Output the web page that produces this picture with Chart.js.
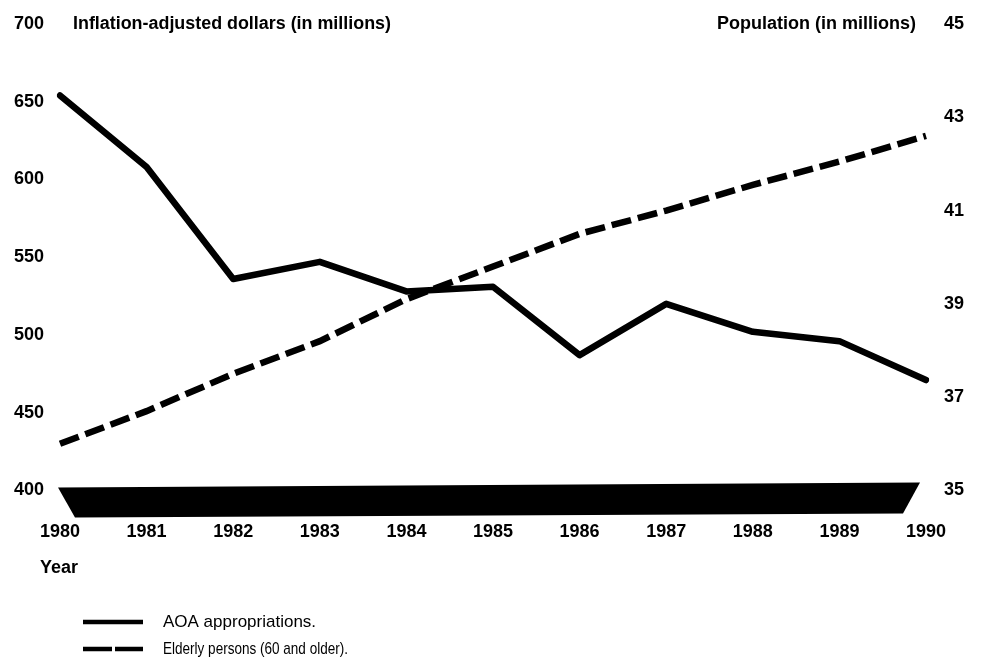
<!DOCTYPE html>
<html>
<head>
<meta charset="utf-8">
<script src="https://cdn.jsdelivr.net/npm/chart.js@4.4.0/dist/chart.umd.min.js"></script>
<style>
  html, body { margin: 0; padding: 0; background: #fff; }
  #wrap { width: 982px; height: 662px; }
</style>
</head>
<body>
<div id="wrap"><canvas id="aoaChart" width="982" height="662"></canvas></div>
<script>
// Years on the x axis
const years = ["1980", "1981", "1982", "1983", "1984", "1985", "1986", "1987", "1988", "1989", "1990"];

// AOA appropriations, inflation-adjusted dollars (in millions) - left axis
const aoaAppropriations = [654, 608, 536, 547, 528, 531, 487, 520, 502, 496, 471];

// Elderly persons (60 and older), population in millions - right axis
const elderlyPersons = [36.0, 36.7, 37.5, 38.2, 39.1, 39.8, 40.5, 41.0, 41.55, 42.05, 42.6];

// Axis ranges / tick steps
const leftAxisRange = [400, 700, 50];
const rightAxisRange = [35, 45, 2];

// Texts
const leftTitle = "Inflation-adjusted dollars (in millions)";
const rightTitle = "Population (in millions)";
const xTitle = "Year";
const legendLabels = ["AOA appropriations.", "Elderly persons (60 and older)."];

const fontFamily = '"Liberation Sans", Arial, sans-serif';
const boldFont = 'bold 18px ' + fontFamily;
const plainFont = '17px ' + fontFamily;
const tickFont = { family: fontFamily, size: 18, weight: 'bold' };

// Draws the black axis band, axis titles and the legend
const decorPlugin = {
    id: 'decor',
    beforeDatasetsDraw(chart) {
        const ctx = chart.ctx;
        const a = chart.chartArea;
        ctx.save();
        ctx.fillStyle = '#000';
        ctx.beginPath();
        ctx.moveTo(a.left - 2, a.bottom - 3);
        ctx.lineTo(a.right - 6, a.bottom - 8);
        ctx.lineTo(a.right - 23, a.bottom + 23);
        ctx.lineTo(a.left + 15, a.bottom + 27);
        ctx.closePath();
        ctx.fill();
        ctx.restore();
    },
    afterDraw(chart) {
        const ctx = chart.ctx;
        const a = chart.chartArea;
        ctx.save();
        ctx.fillStyle = '#000';
        ctx.textBaseline = 'middle';
        ctx.font = boldFont;
        ctx.textAlign = 'left';
        ctx.fillText(leftTitle, a.left + 13, a.top, 318);
        ctx.textAlign = 'right';
        ctx.fillText(rightTitle, a.right - 10, a.top, 200);
        ctx.textAlign = 'left';
        ctx.fillText(xTitle, 40, 568);

        // legend
        ctx.strokeStyle = '#000';
        ctx.lineWidth = 4.5;
        ctx.lineCap = 'butt';
        ctx.beginPath();
        ctx.moveTo(83, 622);
        ctx.lineTo(143, 622);
        ctx.stroke();
        ctx.setLineDash([29, 3]);
        ctx.beginPath();
        ctx.moveTo(83, 649);
        ctx.lineTo(143, 649);
        ctx.stroke();
        ctx.setLineDash([]);
        ctx.font = plainFont;
        ctx.fillText(legendLabels[0], 163, 622, 168);
        ctx.fillText(legendLabels[1], 163, 649, 185);
        ctx.restore();
    }
};

// y axes: fixed width, and don't let tick padding grow the top/bottom padding
function fixAxis(width) {
    return function(scale) {
        scale.width = width;
        scale.paddingTop = 10;
        scale.paddingBottom = 10;
    };
}

const config = {
    type: 'line',
    data: {
        labels: years,
        datasets: [{
            label: legendLabels[0],
            data: aoaAppropriations,
            yAxisID: 'yLeft',
            borderColor: '#000',
            borderWidth: 6.5,
            borderJoinStyle: 'round',
            borderCapStyle: 'round',
            pointRadius: 0,
            fill: false,
            tension: 0
        }, {
            label: legendLabels[1],
            data: elderlyPersons,
            yAxisID: 'yRight',
            borderColor: '#000',
            borderWidth: 6.5,
            borderDash: [20, 7],
            borderCapStyle: 'butt',
            pointRadius: 0,
            fill: false,
            tension: 0
        }]
    },
    options: {
        responsive: false,
        animation: false,
        layout: { autoPadding: false, padding: { top: 24, bottom: 88, left: 0, right: 0 } },
        plugins: {
            legend: { display: false },
            tooltip: { enabled: false }
        },
        scales: {
            x: {
                grid: { display: false, drawTicks: false },
                border: { display: false },
                ticks: { color: '#000', font: tickFont, padding: 31, maxRotation: 0 }
            },
            yLeft: {
                position: 'left',
                min: leftAxisRange[0],
                max: leftAxisRange[1],
                grid: { display: false, drawTicks: false },
                border: { display: false },
                ticks: { stepSize: leftAxisRange[2], color: '#000', font: tickFont, padding: 16 },
                afterFit: fixAxis(60)
            },
            yRight: {
                position: 'right',
                min: rightAxisRange[0],
                max: rightAxisRange[1],
                grid: { display: false, drawTicks: false },
                border: { display: false },
                ticks: { stepSize: rightAxisRange[2], color: '#000', font: tickFont, padding: 18 },
                afterFit: fixAxis(56)
            }
        }
    },
    plugins: [decorPlugin]
};

document.addEventListener('DOMContentLoaded', function() {
    const ctx = document.getElementById('aoaChart').getContext('2d');
    new Chart(ctx, config);
});
</script>
</body>
</html>
